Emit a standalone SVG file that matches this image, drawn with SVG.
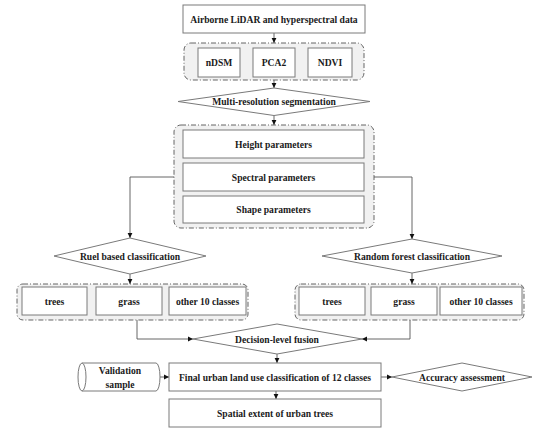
<svg xmlns="http://www.w3.org/2000/svg" width="550" height="432" viewBox="0 0 550 432">
<defs>
<marker id="ah" markerWidth="6" markerHeight="6" refX="5" refY="3" orient="auto" markerUnits="userSpaceOnUse">
<path d="M0,0.6 L5,3 L0,5.4 Z" fill="#111"/>
</marker>
</defs>
<style>
.box{fill:#fff;stroke:#7a7a7a;stroke-width:1}
.grp{fill:#f1f1f1;stroke:#555;stroke-width:0.9;stroke-dasharray:5 2 1 2}
.dia{fill:#fff;stroke:#7a7a7a;stroke-width:1}
.ln{fill:none;stroke:#555;stroke-width:0.9}
.ar{fill:none;stroke:#555;stroke-width:0.9;marker-end:url(#ah)}
text{font-family:"Liberation Serif","Times New Roman",serif;font-weight:bold;font-size:9.6px;fill:#1a1a1a;text-anchor:middle;dominant-baseline:central}
</style>
<rect width="550" height="432" fill="#fff"/>
<g id="connectors">
<line class="ar" x1="274" y1="33" x2="274" y2="43"/>
<line class="ar" x1="274" y1="80" x2="274" y2="88"/>
<line class="ar" x1="274" y1="115.5" x2="274" y2="125"/>
<polyline class="ar" points="174,177 130,177 130,238"/>
<polyline class="ar" points="374,177 412,177 412,239"/>
<line class="ar" x1="130" y1="274" x2="130" y2="284"/>
<line class="ar" x1="412" y1="273" x2="412" y2="284"/>
<polyline class="ar" points="137,320 137,339 193,339"/>
<polyline class="ar" points="410,320 410,339 362,339"/>
<line class="ar" x1="277" y1="354" x2="277" y2="363"/>
<line class="ar" x1="160" y1="377" x2="169" y2="377"/>
<line class="ar" x1="381" y1="377" x2="392" y2="377"/>
<line class="ar" x1="276" y1="391" x2="276" y2="399"/>
</g>
<g id="source">
<rect class="box" x="183" y="5" width="182" height="28"/>
<text x="274" y="19">Airborne LiDAR and hyperspectral data</text>
</g>
<g id="inputs">
<rect class="grp" x="184" y="43" width="180" height="37" rx="7"/>
<g id="ndsm"><rect class="box" x="198" y="48" width="42" height="29"/><text x="219" y="62.5">nDSM</text></g>
<g id="pca2"><rect class="box" x="253" y="48" width="42" height="29"/><text x="274" y="62.5">PCA2</text></g>
<g id="ndvi"><rect class="box" x="308" y="48" width="44" height="29"/><text x="330" y="62.5">NDVI</text></g>
</g>
<g id="segmentation">
<polygon class="dia" points="178,101.5 274,88 370,101.5 274,115.5"/>
<text x="274" y="101.5">Multi-resolution segmentation</text>
</g>
<g id="parameters">
<rect class="grp" x="174" y="125" width="200" height="103" rx="7"/>
<g id="height"><rect class="box" x="183" y="130" width="181" height="28"/><text x="273.5" y="144">Height parameters</text></g>
<g id="spectral"><rect class="box" x="183" y="163" width="181" height="28"/><text x="273.5" y="177">Spectral parameters</text></g>
<g id="shape"><rect class="box" x="183" y="196" width="181" height="27"/><text x="273.5" y="209.5">Shape parameters</text></g>
</g>
<g id="rule">
<polygon class="dia" points="54,256 130,238 206,256 130,274"/>
<text x="130" y="256">Ruel based classification</text>
</g>
<g id="rf">
<polygon class="dia" points="322,256 412,239 502,256 412,273"/>
<text x="412" y="256">Random forest classification</text>
</g>
<g id="rule-classes">
<rect class="grp" x="17" y="284" width="231" height="36" rx="6"/>
<g id="rule-trees"><rect class="box" x="22" y="287" width="65" height="28"/><text x="54.5" y="301">trees</text></g>
<g id="rule-grass"><rect class="box" x="96" y="287" width="66" height="28"/><text x="129" y="301">grass</text></g>
<g id="rule-other"><rect class="box" x="169" y="287" width="77" height="28"/><text x="207.5" y="301">other 10 classes</text></g>
</g>
<g id="rf-classes">
<rect class="grp" x="295" y="284" width="229" height="36" rx="6"/>
<g id="rf-trees"><rect class="box" x="299" y="287" width="66" height="28"/><text x="332" y="301">trees</text></g>
<g id="rf-grass"><rect class="box" x="371" y="287" width="66" height="28"/><text x="404" y="301">grass</text></g>
<g id="rf-other"><rect class="box" x="440" y="287" width="82" height="28"/><text x="481" y="301">other 10 classes</text></g>
</g>
<g id="fusion">
<polygon class="dia" points="193,339 277,324 362,339 277,354"/>
<text x="277" y="339">Decision-level fusion</text>
</g>
<g id="validation">
<path class="box" d="M82,363 L156,363 A4,14 0 0 1 156,391 L82,391 Z"/>
<ellipse class="box" cx="82" cy="377" rx="4" ry="14"/>
<text x="120" y="370">Validation</text>
<text x="120" y="384">sample</text>
</g>
<g id="final">
<rect class="box" x="169" y="363" width="212" height="28"/>
<text x="275" y="377">Final urban land use classification of 12 classes</text>
</g>
<g id="accuracy">
<polygon class="dia" points="392,377 462,363 532,377 462,391"/>
<text x="462" y="377">Accuracy assessment</text>
</g>
<g id="spatial">
<rect class="box" x="169" y="399" width="212" height="28"/>
<text x="275" y="413">Spatial extent of urban trees</text>
</g>
</svg>
